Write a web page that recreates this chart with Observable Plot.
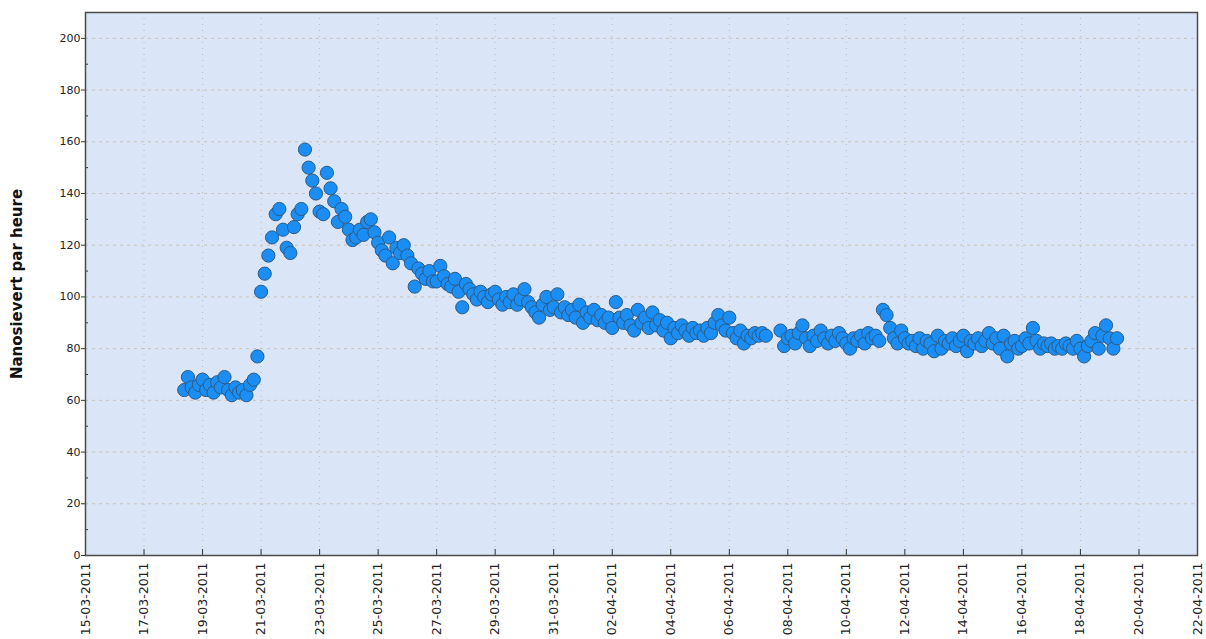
<!DOCTYPE html>
<html>
<head>
<meta charset="utf-8">
<script src="https://cdn.jsdelivr.net/npm/d3@7"></script>
<script src="https://cdn.jsdelivr.net/npm/@observablehq/plot@0.6"></script>
<style>
  html, body { margin: 0; padding: 0; background: #ffffff; }
  #chart { width: 1206px; height: 639px; }
</style>
</head>
<body>
<div id="chart"></div>
<script>
// ---- Data ----
const yLabel = "Nanosievert par heure";
const startTime = "2011-03-18T09:00:00Z"; // first reading
const stepHours = 3;                        // one reading every 3 hours
const readings = [
  /* 18-03 */ 64, 69, 65, 63, 66,
  /* 19-03 */ 68, 64, 66, 63, 67, 65, 69, 64,
  /* 20-03 */ 62, 65, 63, 64, 62, 66, 68, 77,
  /* 21-03 */ 102, 109, 116, 123, 132, 134, 126, 119,
  /* 22-03 */ 117, 127, 132, 134, 157, 150, 145, 140,
  /* 23-03 */ 133, 132, 148, 142, 137, 129, 134, 131,
  /* 24-03 */ 126, 122, 123, 126, 124, 129, 130, 125,
  /* 25-03 */ 121, 118, 116, 123, 113, 119, 117, 120,
  /* 26-03 */ 116, 113, 104, 111, 109, 107, 110, 106,
  /* 27-03 */ 106, 112, 108, 105, 104, 107, 102, 96,
  /* 28-03 */ 105, 103, 101, 99, 102, 100, 98, 101,
  /* 29-03 */ 102, 99, 97, 100, 98, 101, 97, 99,
  /* 30-03 */ 103, 98, 96, 94, 92, 97, 100, 95,
  /* 31-03 */ 96, 101, 94, 96, 93, 95, 92, 97,
  /* 01-04 */ 90, 94, 92, 95, 91, 93, 90, 92,
  /* 02-04 */ 88, 98, 92, 90, 93, 89, 87, 95,
  /* 03-04 */ 90, 92, 88, 94, 89, 91, 87, 90,
  /* 04-04 */ 84, 88, 86, 89, 87, 85, 88, 86,
  /* 05-04 */ 87, 85, 88, 86, 90, 93, 89, 87,
  /* 06-04 */ 92, 86, 84, 87, 82, 85, 84, 86,
  /* 07-04 */ 85, 86, 85, null, null, null, 87, 81,
  /* 08-04 */ 84, 85, 82, 86, 89, 84, 81, 85,
  /* 09-04 */ 83, 87, 84, 82, 85, 83, 86, 84,
  /* 10-04 */ 82, 80, 84, 83, 85, 82, 86, 84,
  /* 11-04 */ 85, 83, 95, 93, 88, 84, 82, 87,
  /* 12-04 */ 84, 82, 83, 81, 84, 80, 83, 82,
  /* 13-04 */ 79, 85, 80, 83, 82, 84, 81, 83,
  /* 14-04 */ 85, 79, 83, 82, 84, 81, 83, 86,
  /* 15-04 */ 82, 84, 80, 85, 77, 82, 83, 80,
  /* 16-04 */ 81, 84, 82, 88, 83, 80, 82, 81,
  /* 17-04 */ 82, 80, 81, 80, 82, 81, 80, 83,
  /* 18-04 */ 80, 77, 81, 83, 86, 80, 85, 89,
  /* 19-04 */ 84, 80, 84
];
const xDomain = ["2011-03-15", "2011-04-22"];
const xTicks = ["2011-03-15", "2011-03-17", "2011-03-19", "2011-03-21", "2011-03-23",
  "2011-03-25", "2011-03-27", "2011-03-29", "2011-03-31", "2011-04-02", "2011-04-04",
  "2011-04-06", "2011-04-08", "2011-04-10", "2011-04-12", "2011-04-14", "2011-04-16",
  "2011-04-18", "2011-04-20", "2011-04-22"];
const yDomain = [0, 210];
const yTicks = [0, 20, 40, 60, 80, 100, 120, 140, 160, 180, 200];
const yMinorTicks = [10, 30, 50, 70, 90, 110, 130, 150, 170, 190];

// ---- Build table ----
const t0 = new Date(startTime).getTime();
const data = readings
  .map((v, i) => ({date: new Date(t0 + i * stepHours * 3600e3), value: v}))
  .filter(d => d.value != null);
const xTickDates = xTicks.map(s => new Date(s + "T00:00:00Z"));
const fmt = d3.utcFormat("%d-%m-%Y");

const chart = Plot.plot({
  width: 1206,
  height: 639,
  marginLeft: 85,
  marginRight: 9,
  marginTop: 12,
  marginBottom: 84,
  style: {fontFamily: "'DejaVu Sans', sans-serif", fontSize: "11px", color: "#222", background: "#ffffff"},
  x: {type: "utc", domain: xDomain.map(s => new Date(s + "T00:00:00Z"))},
  y: {domain: yDomain},
  marks: [
    Plot.frame({fill: "#dae6f7", stroke: null}),
    Plot.gridY(yTicks.filter(d => d > 0), {stroke: "#cbbfae", strokeOpacity: 0.9, strokeDasharray: "3,4"}),
    Plot.gridX(xTickDates.slice(1, -1), {stroke: "#b8b8b8", strokeOpacity: 0.9, strokeDasharray: "1,5"}),
    Plot.dot(data, {x: "date", y: "value", r: 6.6, fill: "#1a8ef4", stroke: "#2d5b84", strokeWidth: 1, fillOpacity: 1}),
    Plot.axisY({ticks: yTicks, tickSize: 4, tickPadding: 1, fontSize: 11, label: null, stroke: "#333"}),
    Plot.axisY({ticks: yMinorTicks, tickSize: -3, tickFormat: () => "", label: null, stroke: "#333"}),
    Plot.axisX({ticks: xTickDates, tickSize: 0, tickPadding: 7, tickRotate: -90, tickFormat: fmt, fontSize: 12.5, label: null}),
    Plot.axisX({ticks: xTickDates, tickSize: -6, tickFormat: () => "", label: null, stroke: "#333"}),
    Plot.frame({stroke: "#4a4a4a", strokeWidth: 1.5}),
    Plot.text([yLabel], {frameAnchor: "left", textAnchor: "middle", text: d => d, rotate: -90, dx: -68, fontSize: 15, fontWeight: "bold", fill: "#111"})
  ]
});
document.getElementById("chart").appendChild(chart);
</script>
</body>
</html>
